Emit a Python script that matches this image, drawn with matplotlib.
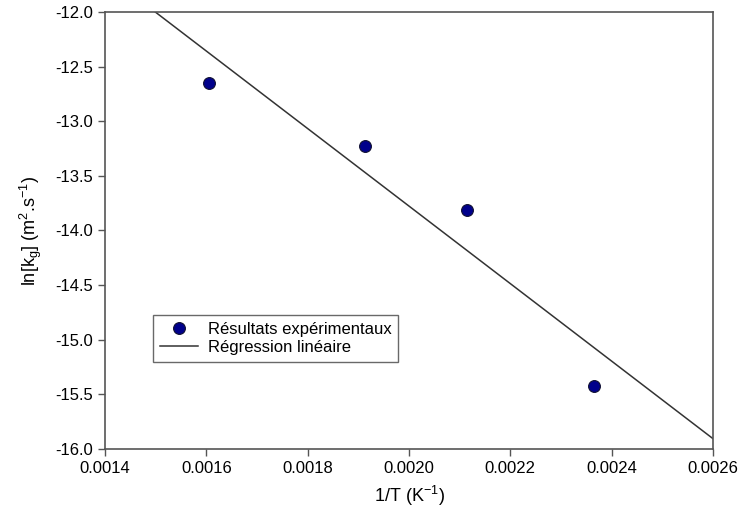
import numpy as np
import matplotlib
matplotlib.use("Agg")
import matplotlib.pyplot as plt

# experimental points
inv_T = [0.001606, 0.001913, 0.002115, 0.002365]
ln_kg = [-12.647, -13.224, -13.815, -15.42]

x_ticks = [0.0014, 0.0016, 0.0018, 0.0020, 0.0022, 0.0024, 0.0026]
y_ticks = [-16.0, -15.5, -15.0, -14.5, -14.0, -13.5, -13.0, -12.5, -12.0]

plt.rcParams["font.family"] = ["Liberation Sans", "DejaVu Sans"]
plt.rcParams["mathtext.default"] = "regular"

fig = plt.figure(figsize=(7.42, 5.19), dpi=100)
ax = fig.add_axes([0.1415, 0.135, 0.8195, 0.842])

# linear regression through the points
slope, intercept = np.polyfit(inv_T, ln_kg, 1)
xs = np.array([0.0014, 0.0026])
ax.plot(xs, slope * xs + intercept, color="#333333", lw=1.1,
        label="Régression linéaire", zorder=2)
ax.plot(inv_T, ln_kg, "o", ms=8.5, color="#00008b", mec="#111133", mew=0.8,
        label="Résultats expérimentaux", zorder=3)

ax.set_xlim(0.0014, 0.0026)
ax.set_ylim(-16.0, -12.0)
ax.set_xticks(x_ticks)
ax.set_xticklabels(["%.4f" % v for v in x_ticks])
ax.set_yticks(y_ticks)
ax.set_yticklabels(["%.1f" % v for v in y_ticks])
ax.tick_params(direction="out", length=5, width=1, color="#555555",
               labelsize=12, top=False, right=False)
for s in ax.spines.values():
    s.set_color("#555555")
    s.set_linewidth(1.2)

ax.set_xlabel("1/T (K$^{-1}$)", fontsize=13, labelpad=6)
ax.set_ylabel("ln[k$_g$] (m$^2$.s$^{-1}$)", fontsize=13, labelpad=8)

handles, labels = ax.get_legend_handles_labels()
leg = ax.legend(handles[::-1], labels[::-1], loc="lower left",
                bbox_to_anchor=(0.079, 0.199), borderaxespad=0,
                fontsize=12, frameon=True, fancybox=False,
                edgecolor="#444444", borderpad=0.4, handlelength=2.3,
                handletextpad=0.6, labelspacing=0.2)
leg.get_frame().set_linewidth(1.0)

fig.savefig("out.png", dpi=100)
